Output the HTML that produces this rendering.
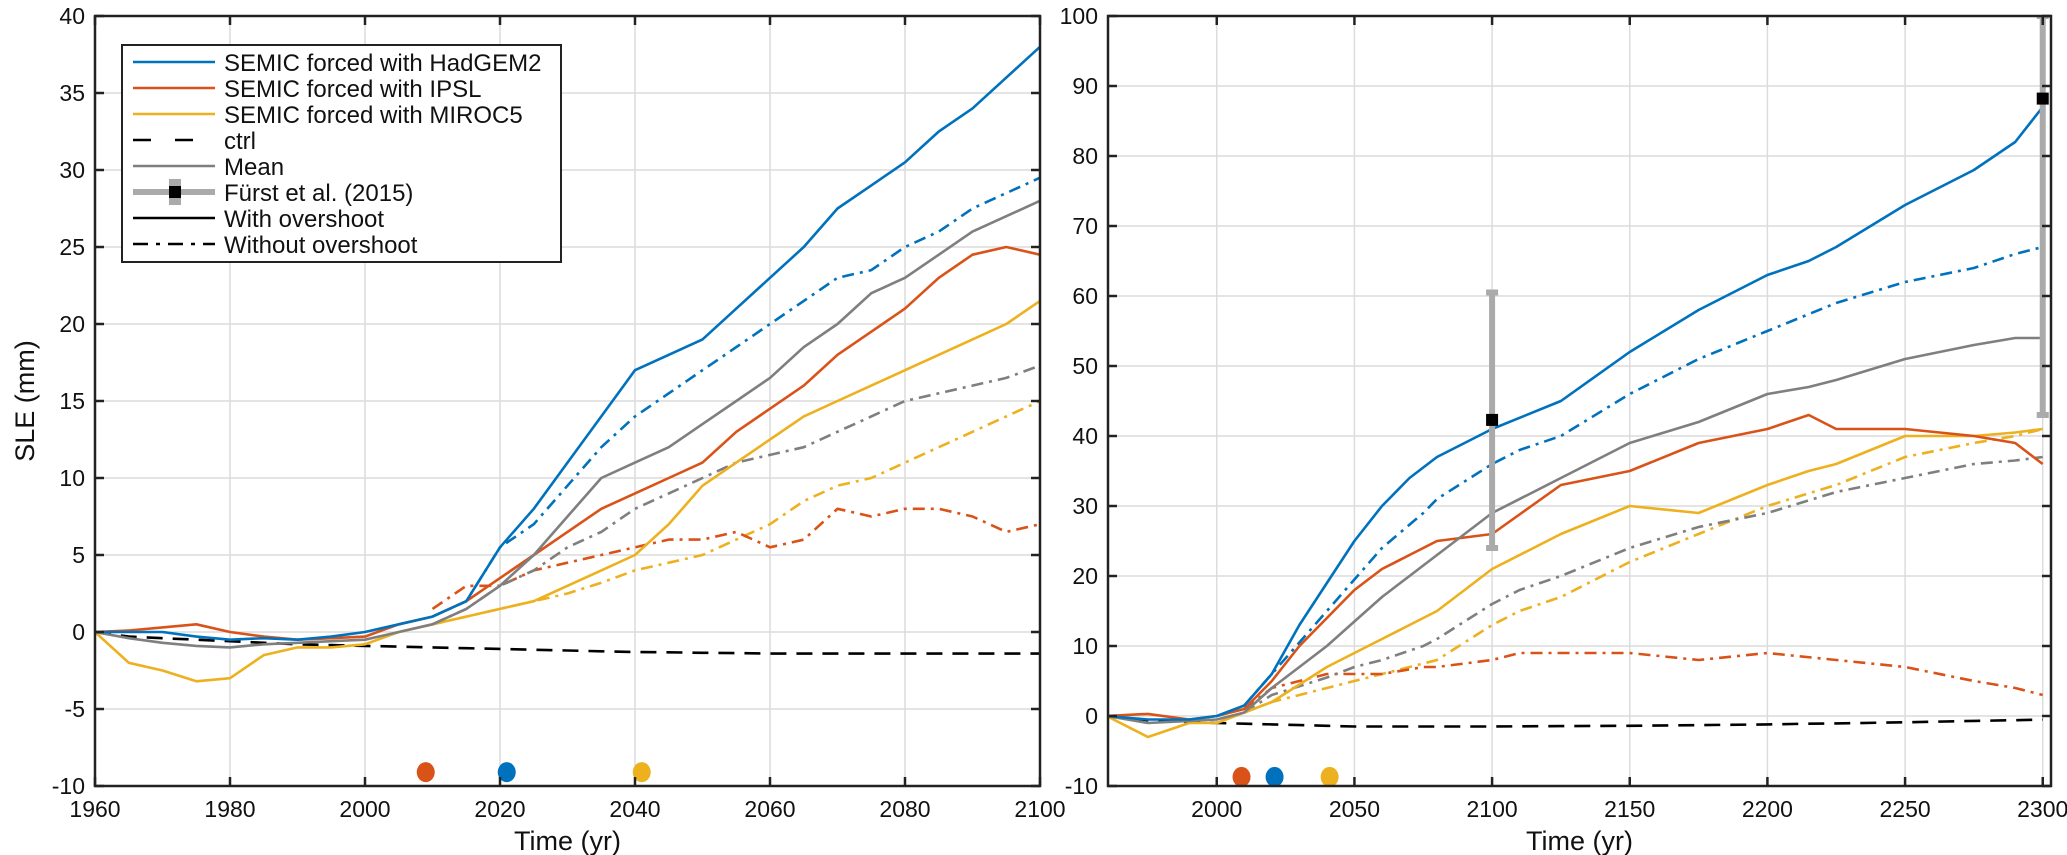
<!DOCTYPE html>
<html><head><meta charset="utf-8"><style>
html,body{margin:0;padding:0;background:#fff}
svg{display:block;font-family:"Liberation Sans",sans-serif}
</style></head><body>
<svg id="fig" width="2067" height="855" viewBox="0 0 2067 855" xmlns="http://www.w3.org/2000/svg"></svg>
<script>
// ---- Left panel data (1960-2100) ----
const L_years = [1960,1965,1970,1975,1980,1985,1990,1995,2000,2005,2010,2015,2020,2025,2030,2035,2040,2045,2050,2055,2060,2065,2070,2075,2080,2085,2090,2095,2100];
const L_blue   = [0,0,0,-0.3,-0.5,-0.4,-0.5,-0.3,0,0.5,1,2,5.5,8,11,14,17,18,19,21,23,25,27.5,29,30.5,32.5,34,36,38];
const L_red    = [0,0.1,0.3,0.5,0,-0.3,-0.5,-0.4,-0.3,0.5,1,2,3.5,5,6.5,8,9,10,11,13,14.5,16,18,19.5,21,23,24.5,25,24.5];
const L_yellow = [0,-2,-2.5,-3.2,-3,-1.5,-1,-1,-0.8,0,0.5,1,1.5,2,3,4,5,7,9.5,11,12.5,14,15,16,17,18,19,20,21.5];
const L_mean   = [0,-0.4,-0.7,-0.9,-1,-0.8,-0.7,-0.6,-0.5,0,0.5,1.5,3,5,7.5,10,11,12,13.5,15,16.5,18.5,20,22,23,24.5,26,27,28];
const L_ctrl   = [0,-0.3,-0.4,-0.5,-0.6,-0.7,-0.8,-0.85,-0.9,-0.95,-1,-1.05,-1.1,-1.15,-1.2,-1.25,-1.3,-1.32,-1.35,-1.37,-1.4,-1.4,-1.4,-1.4,-1.4,-1.4,-1.4,-1.4,-1.4];
const L_noYears  = [2010,2015,2020,2025,2030,2035,2040,2045,2050,2055,2060,2065,2070,2075,2080,2085,2090,2095,2100];
const L_blueNo   = [1,2,5.5,7,9.5,12,14,15.5,17,18.5,20,21.5,23,23.5,25,26,27.5,28.5,29.5];
const L_redNo    = [1.5,3,3,4,4.5,5,5.5,6,6,6.5,5.5,6,8,7.5,8,8,7.5,6.5,7];
const L_yellowNo = [0.5,1,1.5,2,2.5,3.2,4,4.5,5,6,7,8.5,9.5,10,11,12,13,14,15];
const L_meanNo   = [0.5,1.5,3,4,5.5,6.5,8,9,10,11,11.5,12,13,14,15,15.5,16,16.5,17.3];
// ---- Right panel data (1960-2300) ----
const R_years = [1960,1975,1990,2000,2010,2020,2030,2040,2050,2060,2070,2080,2090,2100,2125,2150,2175,2200,2215,2225,2250,2275,2290,2300];
const R_blue   = [0,-0.5,-0.5,0,1.5,6,13,19,25,30,34,37,39,41,45,52,58,63,65,67,73,78,82,87];
const R_red    = [0,0.3,-0.5,0,1,5,10,14,18,21,23,25,25.5,26,33,35,39,41,43,41,41,40,39,36];
const R_yellow = [0,-3,-1,-1,0.5,2,4.5,7,9,11,13,15,18,21,26,30,29,33,35,36,40,40,40.5,41];
const R_mean   = [0,-1,-0.7,-0.5,0.5,4,7,10,13.5,17,20,23,26,29,34,39,42,46,47,48,51,53,54,54];
const R_ctrl   = [0,-0.6,-0.9,-1,-1.1,-1.2,-1.3,-1.4,-1.5,-1.5,-1.5,-1.5,-1.5,-1.5,-1.45,-1.4,-1.3,-1.2,-1.1,-1.05,-0.9,-0.7,-0.6,-0.5];
const R_noYears  = [2010,2020,2040,2050,2060,2075,2080,2100,2110,2125,2150,2175,2200,2225,2250,2275,2290,2300];
const R_blueNo   = [1.5,6,15,19.5,24,29,31,36,38,40,46,51,55,59,62,64,66,67];
const R_redNo    = [1,4,6,6,6,7,7,8,9,9,9,8,9,8,7,5,4,3];
const R_yellowNo = [0.5,2,4,5,6,7.5,8,13,15,17,22,26,30,33,37,39,40,41];
const R_meanNo   = [0.5,3,5.5,7,8,10,11,16,18,20,24,27,29,32,34,36,36.5,37];
// ---- Markers ----
const dotYears = [2009,2021,2041];
const dotColors = ["#D95319","#0072BD","#EDB120"];
const furstYears = [2100,2300];
const furstVal = [42.3,88.2];
const furstLo = [24,43];
const furstHi = [60.5,100];

const NS="http://www.w3.org/2000/svg";
const svg=document.getElementById('fig');
function el(tag,attrs,parent){const e=document.createElementNS(NS,tag);for(const k in attrs)e.setAttribute(k,attrs[k]);(parent||svg).appendChild(e);return e;}

const BLUE="#0072BD",RED="#D95319",YEL="#EDB120",GRAY="#7f7f7f";

function panel(cfg){
  const g=el('g',{});
  
  
  const sx=v=>cfg.x0+(v-cfg.xmin)/(cfg.xmax-cfg.xmin)*(cfg.x1-cfg.x0);
  const sy=v=>cfg.y1-(v-cfg.ymin)/(cfg.ymax-cfg.ymin)*(cfg.y1-cfg.y0);
  cfg.xticks.forEach(t=>{const l=el('line',{x1:sx(t),x2:sx(t),y1:cfg.y0,y2:cfg.y1,stroke:'#dcdcdc','stroke-width':1.5},g);});
  cfg.yticks.forEach(t=>{const l=el('line',{x1:cfg.x0,x2:cfg.x1,y1:sy(t),y2:sy(t),stroke:'#dcdcdc','stroke-width':1.5},g);});
  const clipId=cfg.name+'-clip';
  const cp=el('clipPath',{id:clipId},g);el('rect',{x:cfg.x0,y:cfg.y0,width:cfg.x1-cfg.x0,height:cfg.y1-cfg.y0},cp);
  const pg=el('g',{'clip-path':`url(#${clipId})`},g);
  function line(xs,ys,color,dash,name){
    const d=xs.map((x,i)=>(i?'L':'M')+sx(x).toFixed(1)+' '+sy(ys[i]).toFixed(1)).join(' ');
    const p=el('path',{d:d,fill:'none',stroke:color,'stroke-width':2.6,'stroke-linejoin':'round'},pg);
    if(dash)p.setAttribute('stroke-dasharray',dash);
    
    
  }
  const DD='12,6,3,6';
  line(cfg.years,cfg.ctrl,'#000','16,10','ctrl-line');
  line(cfg.noYears,cfg.yellowNo,YEL,DD,'miroc5-without-overshoot');
  line(cfg.noYears,cfg.redNo,RED,DD,'ipsl-without-overshoot');
  line(cfg.noYears,cfg.meanNo,GRAY,DD,'mean-without-overshoot');
  line(cfg.noYears,cfg.blueNo,BLUE,DD,'hadgem2-without-overshoot');
  line(cfg.years,cfg.yellow,YEL,null,'miroc5-with-overshoot');
  line(cfg.years,cfg.red,RED,null,'ipsl-with-overshoot');
  line(cfg.years,cfg.mean,GRAY,null,'mean-with-overshoot');
  line(cfg.years,cfg.blue,BLUE,null,'hadgem2-with-overshoot');
  if(cfg.furst){
    furstYears.forEach((yr,i)=>{
      const b=el('line',{x1:sx(yr),x2:sx(yr),y1:sy(furstLo[i]),y2:sy(furstHi[i]),stroke:'#aaaaaa','stroke-width':6},pg);
      
      [furstLo[i],furstHi[i]].forEach(v=>{el('line',{x1:sx(yr)-6,x2:sx(yr)+6,y1:sy(v),y2:sy(v),stroke:'#aaaaaa','stroke-width':6},pg);});
      const m=el('rect',{x:sx(yr)-6,y:sy(furstVal[i])-6,width:12,height:12,fill:'#000'},g);
      
    });
  }
  dotYears.forEach((yr,i)=>{
    const c=el('ellipse',{cx:sx(yr),cy:sy(cfg.dotY),rx:9,ry:10,fill:dotColors[i]},g);
    
  });
  const bx=el('rect',{x:cfg.x0,y:cfg.y0,width:cfg.x1-cfg.x0,height:cfg.y1-cfg.y0,fill:'none',stroke:'#222','stroke-width':2.5},g);
  
  cfg.xticks.forEach(t=>{
    el('line',{x1:sx(t),x2:sx(t),y1:cfg.y1,y2:cfg.y1-9,stroke:'#222','stroke-width':2.5},g);
    el('line',{x1:sx(t),x2:sx(t),y1:cfg.y0,y2:cfg.y0+9,stroke:'#222','stroke-width':2.5},g);
    const tx=el('text',{x:sx(t),y:cfg.y1+31,'text-anchor':'middle','font-size':23,fill:'#111'},g);
    tx.textContent=t;
  });
  cfg.yticks.forEach(t=>{
    el('line',{x1:cfg.x0,x2:cfg.x0+9,y1:sy(t),y2:sy(t),stroke:'#222','stroke-width':2.5},g);
    el('line',{x1:cfg.x1,x2:cfg.x1-9,y1:sy(t),y2:sy(t),stroke:'#222','stroke-width':2.5},g);
    const tx=el('text',{x:cfg.x0-10,y:sy(t)+8,'text-anchor':'end','font-size':23,fill:'#111'},g);
    tx.textContent=t;
  });
  const xl=el('text',{x:(cfg.x0+cfg.x1)/2,y:cfg.y1+64,'text-anchor':'middle','font-size':27,fill:'#111'},g);
  xl.textContent='Time (yr)';
}

panel({name:'left-chart',x0:95,x1:1040,y0:16,y1:786,xmin:1960,xmax:2100,ymin:-10,ymax:40,
  xticks:[1960,1980,2000,2020,2040,2060,2080,2100],yticks:[-10,-5,0,5,10,15,20,25,30,35,40],
  years:L_years,blue:L_blue,red:L_red,yellow:L_yellow,mean:L_mean,ctrl:L_ctrl,
  noYears:L_noYears,blueNo:L_blueNo,redNo:L_redNo,yellowNo:L_yellowNo,meanNo:L_meanNo,dotY:-9.1,furst:false});
panel({name:'right-chart',x0:1108,x1:2051,y0:16,y1:786,xmin:1960.5,xmax:2303,ymin:-10,ymax:100,
  xticks:[2000,2050,2100,2150,2200,2250,2300],yticks:[-10,0,10,20,30,40,50,60,70,80,90,100],
  years:R_years,blue:R_blue,red:R_red,yellow:R_yellow,mean:R_mean,ctrl:R_ctrl,
  noYears:R_noYears,blueNo:R_blueNo,redNo:R_redNo,yellowNo:R_yellowNo,meanNo:R_meanNo,dotY:-8.7,furst:true});

const yl=el('text',{x:34,y:401,'text-anchor':'middle','font-size':27,fill:'#111',transform:'rotate(-90 34 401)'});
yl.textContent='SLE (mm)';



const lg=el('g',{});


el('rect',{x:122,y:45,width:439,height:217,fill:'#fff',stroke:'#222','stroke-width':2},lg);
const entries=[
 ['SEMIC forced with HadGEM2',BLUE,null],['SEMIC forced with IPSL',RED,null],['SEMIC forced with MIROC5',YEL,null],
 ['ctrl','#000','18,24'],['Mean',GRAY,null],['Fürst et al. (2015)','#aaaaaa','furst'],['With overshoot','#000',null],['Without overshoot','#000','15,8,4,8']];
entries.forEach((e,i)=>{
  const y=62+i*26;
  const eg=el('g',{},lg);
  
  
  if(e[2]==='furst'){
    el('line',{x1:133,x2:215,y1:y,y2:y,stroke:'#aaaaaa','stroke-width':6},eg);
    el('rect',{x:169,y:y-13,width:12,height:26,fill:'#aaaaaa'},eg);
    el('rect',{x:169,y:y-6,width:12,height:12,fill:'#000'},eg);
  } else {
    const l=el('line',{x1:133,x2:215,y1:y,y2:y,stroke:e[1],'stroke-width':2.6},eg);
    if(e[2])l.setAttribute('stroke-dasharray',e[2]);
  }
  const t=el('text',{x:224,y:y+9,'font-size':24,fill:'#111'},eg);
  t.textContent=e[0];
});
</script>
</body></html>
